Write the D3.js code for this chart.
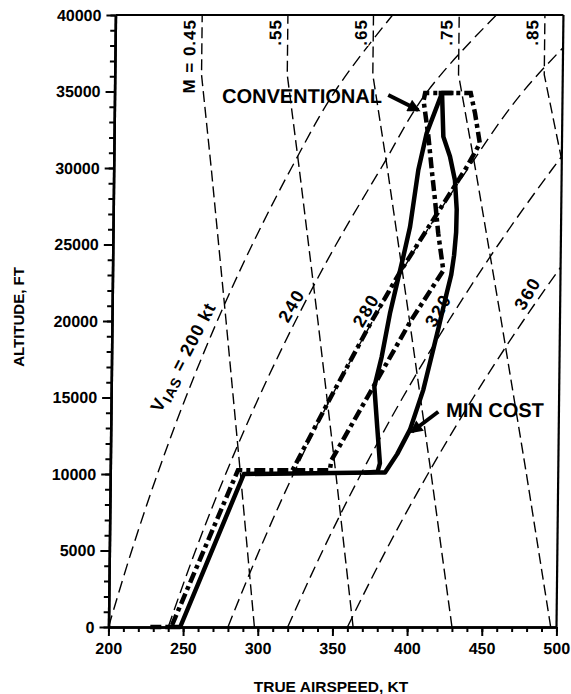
<!DOCTYPE html>
<html>
<head>
<meta charset="utf-8">
<script src="https://cdn.jsdelivr.net/npm/d3@7"></script>
<style>
  body { margin: 0; background: #fff; }
  svg text { font-family: "Liberation Sans", Arial, sans-serif; font-weight: bold; fill: #000; }
</style>
</head>
<body>
<svg id="chart" width="571" height="694"></svg>
<script>
// Axis ticks
const xTicks = [200, 250, 300, 350, 400, 450, 500];
const yTicks = [0, 5000, 10000, 15000, 20000, 25000, 30000, 35000, 40000];

// Constant Mach lines, [true airspeed kt, altitude ft]
const mach45 = [[297.7, 0], [287.2, 10000], [276.4, 20000], [265.3, 30000], [258.1, 36100], [258.1, 40000]];
const mach55 = [[363.8, 0], [351.1, 10000], [337.9, 20000], [324.2, 30000], [315.5, 36100], [315.5, 40000]];
const mach65 = [[430.0, 0], [414.9, 10000], [399.3, 20000], [383.2, 30000], [372.8, 36100], [372.8, 40000]];
const mach75 = [[496.1, 0], [478.7, 10000], [460.7, 20000], [442.1, 30000], [430.2, 36100], [430.2, 40000]];
const mach85 = [[542.6, 10000], [522.2, 20000], [501.1, 30000], [487.6, 36100], [487.6, 40000]];
const machLabels = ['M = 0.45', '.55', '.65', '.75', '.85'];

// Constant indicated airspeed lines
const cas200 = [[200, 0], [215.0, 5000], [231.6, 10000], [250.0, 15000], [270.5, 20000], [293.4, 25000], [319.0, 30000], [347.5, 35000], [385.6, 40000]];
const cas240 = [[240, 0], [257.7, 5000], [277.3, 10000], [298.9, 15000], [322.9, 20000], [349.5, 25000], [379.1, 30000], [409.5, 35000], [455.1, 40000]];
const cas280 = [[280, 0], [300.4, 5000], [322.7, 10000], [347.3, 15000], [374.6, 20000], [404.5, 25000], [437.5, 30000], [473.6, 35000], [521.6, 40000]];
const cas320 = [[320, 0], [342.9, 5000], [367.9, 10000], [395.3, 15000], [425.4, 20000], [458.2, 25000], [494.2, 30000], [533.2, 35000]];
const cas360 = [[360, 0], [385.2, 5000], [412.7, 10000], [442.6, 15000], [475.3, 20000], [510.8, 25000]];
const casLabels = ['240', '280', '320', '360'];
const casLabelPos = [[320, 21000], [370, 20700], [418.4, 20700], [478, 21800]];

// Flight profiles
const conventional = [[228, 0], [242, 0], [285.5, 10250], [322, 10250], [347, 15000], [374, 20000], [392.5, 23200],
  [404, 25000], [436, 30000], [445, 31600], [441.5, 33600], [438.5, 34900], [408, 34900], [407, 34400],
  [410.5, 32050], [413, 29870], [415.4, 27910], [417.8, 25730], [421.5, 23300], [400, 20000], [371.5, 15000],
  [348, 10900], [347, 10250], [322, 10250]];
const minCostRight = [[240, 0], [248, 0], [289.5, 10000], [376, 10100], [384, 10100], [392, 11300], [400.4, 12900],
  [409, 15500], [418.6, 19500], [423.9, 21800], [426.8, 23000], [428.6, 24300], [429.8, 25800], [430, 27300],
  [428.6, 29200], [425.1, 30750], [420.5, 32050], [419.3, 34900]];
const minCostLeft = [[419.3, 34900], [409.3, 32270], [404, 29870], [398.9, 26160], [394.6, 24200], [386.1, 20500],
  [380.9, 17670], [376.2, 15700], [378.5, 13000], [380.5, 10700], [379, 10150], [370, 10080]];
const minCostTop = [[417, 34900], [427, 34900]];

const svg = d3.select('#chart');
const x = d3.scaleLinear().domain([200, 500]).range([108.5, 556.5]);
const y = d3.scaleLinear().domain([0, 40000]).range([627, 15]);

const defs = svg.append('defs');
defs.append('clipPath').attr('id', 'clip')
    .append('rect')
    .attr('x', x(200)).attr('y', y(40000))
    .attr('width', x(500) - x(200)).attr('height', y(0) - y(40000));
defs.append('marker')
    .attr('id', 'arrowhead')
    .attr('viewBox', '0 0 10 10')
    .attr('refX', 8).attr('refY', 5)
    .attr('markerWidth', 3.6).attr('markerHeight', 3.2)
    .attr('orient', 'auto')
    .append('path')
    .attr('d', 'M 0 0 L 10 5 L 0 10 Z')
    .attr('fill', 'black');

// the scanned original leans slightly to the right at the top
const plot = svg.append('g')
    .attr('transform', `translate(0,${y(0)}) skewX(-0.65) translate(0,${-y(0)})`);

const line = d3.line().x(d => x(d[0])).y(d => y(d[1]));

const grid = plot.append('g').attr('clip-path', 'url(#clip)');
grid.selectAll('path.mach')
    .data([mach45, mach55, mach65, mach75, mach85])
    .join('path')
    .attr('class', 'mach')
    .attr('d', line)
    .attr('fill', 'none')
    .attr('stroke', '#000')
    .attr('stroke-width', 1.4)
    .attr('stroke-dasharray', '11,5');
grid.selectAll('path.cas')
    .data([cas200, cas240, cas280, cas320, cas360])
    .join('path')
    .attr('class', 'cas')
    .attr('d', line.curve(d3.curveMonotoneY))
    .attr('fill', 'none')
    .attr('stroke', '#000')
    .attr('stroke-width', 1.4)
    .attr('stroke-dasharray', '12,6');
line.curve(d3.curveLinear);

// Mach labels
plot.selectAll('text.machlab')
    .data(machLabels)
    .join('text')
    .attr('class', 'machlab')
    .attr('transform', (d, i) => {
        const s = [mach45, mach55, mach65, mach75, mach85][i];
        return `translate(${x(s[s.length - 1][0]) - 6.5},${y(40000) + 4}) rotate(-90)`;
    })
    .attr('text-anchor', 'end')
    .attr('font-size', 17)
    .attr('letter-spacing', 1)
    .attr('stroke', '#fff').attr('stroke-width', 3).attr('paint-order', 'stroke')
    .text(d => d);

// IAS labels
plot.selectAll('text.caslab')
    .data(casLabels)
    .join('text')
    .attr('class', 'caslab')
    .attr('transform', (d, i) => `translate(${x(casLabelPos[i][0])},${y(casLabelPos[i][1])}) rotate(-60)`)
    .attr('text-anchor', 'middle')
    .attr('dy', '0.35em')
    .attr('font-size', 18)
    .attr('letter-spacing', 1.5)
    .attr('stroke', '#fff').attr('stroke-width', 3).attr('paint-order', 'stroke')
    .text(d => d);

const vLab = plot.append('text')
    .attr('transform', `translate(${x(247.9)},${y(17650)}) rotate(-63)`)
    .attr('text-anchor', 'middle')
    .attr('dy', '0.35em')
    .attr('font-size', 18)
    .attr('letter-spacing', 1);
vLab.append('tspan').text('V');
vLab.append('tspan').attr('font-size', 14).attr('dy', 4).text('IAS');
vLab.append('tspan').attr('dy', -4).text(' = 200 kt');

// Profiles
plot.append('path')
    .datum(conventional)
    .attr('d', line)
    .attr('fill', 'none')
    .attr('stroke', '#000')
    .attr('stroke-width', 4.5)
    .attr('stroke-dasharray', '11,4,4,4');
plot.selectAll('path.mincost')
    .data([minCostRight, minCostLeft, minCostTop])
    .join('path')
    .attr('class', 'mincost')
    .attr('d', line)
    .attr('fill', 'none')
    .attr('stroke', '#000')
    .attr('stroke-width', 4.5)
    .attr('stroke-linejoin', 'round');

// Axes
const xMinor = plot.append('g')
    .attr('transform', `translate(0,${y(0)})`)
    .call(d3.axisBottom(x).tickValues(d3.range(200, 501, 10)).tickSize(5).tickSizeOuter(0).tickFormat(''));
const xAxis = plot.append('g')
    .attr('transform', `translate(0,${y(0)})`)
    .call(d3.axisBottom(x).tickValues(xTicks).tickSize(9).tickSizeOuter(0).tickPadding(7));
const yMinor = plot.append('g')
    .attr('transform', `translate(${x(200)},0)`)
    .call(d3.axisLeft(y).tickValues(d3.range(0, 40001, 1000)).tickSize(5).tickSizeOuter(0).tickFormat(''));
const yAxis = plot.append('g')
    .attr('transform', `translate(${x(200)},0)`)
    .call(d3.axisLeft(y).tickValues(yTicks).tickSize(9).tickSizeOuter(0).tickPadding(5).tickFormat(d3.format('d')));
[xMinor, xAxis, yMinor, yAxis].forEach(a => {
    a.attr('font-size', 16);
    a.select('.domain').attr('stroke-width', 2.5);
    a.selectAll('.tick line').attr('stroke-width', 2);
});

plot.append('line')
    .attr('x1', x(200)).attr('x2', x(500))
    .attr('y1', y(40000)).attr('y2', y(40000))
    .attr('stroke', '#000').attr('stroke-width', 2.2);
plot.append('line')
    .attr('x1', x(500)).attr('x2', x(500))
    .attr('y1', y(0)).attr('y2', y(40000))
    .attr('stroke', '#000').attr('stroke-width', 2.2);

// Annotations
plot.append('text')
    .attr('x', x(272)).attr('y', y(34250))
    .attr('font-size', 20)
    .text('CONVENTIONAL');
plot.append('line')
    .attr('x1', x(383.3)).attr('y1', y(34770))
    .attr('x2', x(403.5)).attr('y2', y(33790))
    .attr('stroke', '#000').attr('stroke-width', 4)
    .attr('marker-end', 'url(#arrowhead)');
plot.append('text')
    .attr('x', x(424.4)).attr('y', y(13730))
    .attr('font-size', 20)
    .text('MIN COST');
plot.append('line')
    .attr('x1', x(419.2)).attr('y1', y(14070))
    .attr('x2', x(401.6)).attr('y2', y(12760))
    .attr('stroke', '#000').attr('stroke-width', 4)
    .attr('marker-end', 'url(#arrowhead)');

// Axis titles
svg.append('text')
    .attr('transform', 'translate(23.5,317) rotate(-90)')
    .attr('text-anchor', 'middle')
    .attr('font-size', 15)
    .text('ALTITUDE, FT');
svg.append('text')
    .attr('x', 331).attr('y', 692)
    .attr('text-anchor', 'middle')
    .attr('font-size', 15.5)
    .text('TRUE AIRSPEED, KT');
</script>
</body>
</html>
